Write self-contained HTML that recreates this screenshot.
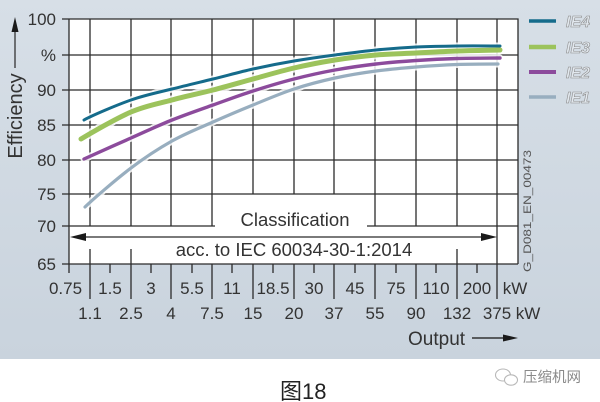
<!DOCTYPE html>
<html>
<head>
<meta charset="utf-8">
<style>
html,body{margin:0;padding:0;background:#fff;}
svg{display:block;}
text{font-family:"Liberation Sans","Noto Sans CJK SC",sans-serif;}
</style>
</head>
<body>
<svg width="600" height="402" viewBox="0 0 600 402" xmlns="http://www.w3.org/2000/svg" xmlns:xlink="http://www.w3.org/1999/xlink">
<defs>
<linearGradient id="bg" x1="0" y1="0" x2="0" y2="1">
<stop offset="0" stop-color="#d7dfe7"/>
<stop offset="1" stop-color="#c9d3dd"/>
</linearGradient>
<path id="ie1" d="M85,207 C92.7,199.5 116.5,179 131,168 S158.3,148.7 172,141 S199.5,128 213,122 S239.5,110.5 253,105 S280.3,93.5 294,89 S321.3,81 335,78 S362.5,72.8 376,71 S402.5,68.1 416,67 S443.3,65 457,64.5 S491.2,64 498,64"/>
<path id="ie2" d="M84,159 C91.8,155.4 116.3,144.5 131,138 S158.3,125.5 172,120 S199.5,109.8 213,105 S239.5,95.3 253,91 S280.3,82.5 294,79 S321.3,72.5 335,70 S362.5,65.6 376,64 S402.5,61.4 416,60.5 S443,58.9 457,58.5 S492.8,58.1 500,58"/>
<path id="ie3" d="M81,139 C89.3,134 115.8,118.5 131,112 S158.3,103.7 172,100 S199.5,93.5 213,90 S239.5,82.7 253,79 S280.3,71.2 294,68 S321.3,62.2 335,60 S362.5,56.2 376,55 S402.5,53.7 416,53 S443,51.5 457,51 S492.8,50.2 500,50"/>
<path id="ie4" d="M84,120 C92,115.5 116.3,105.2 131,100 S158.3,92.5 172,89 S199.5,82.3 213,79 S239.5,72 253,69 S280.3,63.3 294,61 S321.3,56.8 335,55 S362.5,51.3 376,50 S402.5,47.7 416,47 S443,46.2 457,46 S492.8,46 500,46"/>
</defs>

<rect x="0" y="0" width="600" height="359" fill="url(#bg)"/>
<rect x="0" y="359" width="600" height="43" fill="#ffffff"/>
<rect x="69" y="19" width="449" height="245" fill="#ffffff"/>

<path fill="none" stroke="#2b2b2b" stroke-width="1.3" d="
M62,19H518V264 M69,19V273 M62,264H518
M62,55H518 M62,90H518 M62,125H518 M62,160H518 M62,194H518
M62,226H215 M367,226H518
M90,19V226 M131,19V226 M171,19V226 M212,19V226
M253,19V194 M294,19V194 M334,19V194
M375,19V226 M416,19V226 M457,19V226 M497,19V299
M90,249V299 M131,249V299 M457,249V299
M171,264V299 M212,264V299 M253,264V299 M294,264V299 M334,264V299 M375,264V299 M416,264V299
M110,264V273 M151,264V273 M192,264V273 M232,264V273 M273,264V273
M314,264V273 M355,264V273 M396,264V273 M436,264V273 M477,264V273
M82,237H485"/>
<path fill="#1a1a1a" d="M70,237L86,233V241Z M497,237L481,233V241Z"/>

<g fill="none" stroke="#ffffff" stroke-linecap="round" stroke-linejoin="round" opacity="0.85" stroke-width="7">
<use xlink:href="#ie1" href="#ie1"/>
<use xlink:href="#ie2" href="#ie2"/>
<use xlink:href="#ie3" href="#ie3" stroke-width="9"/>
<use xlink:href="#ie4" href="#ie4"/>
</g>
<g fill="none" stroke-linecap="round" stroke-linejoin="round">
<use xlink:href="#ie1" href="#ie1" stroke="#98aebf" stroke-width="3.2"/>
<use xlink:href="#ie2" href="#ie2" stroke="#8c4b9c" stroke-width="3.4"/>
<use xlink:href="#ie3" href="#ie3" stroke="#9cc35c" stroke-width="5"/>
<use xlink:href="#ie4" href="#ie4" stroke="#156b8b" stroke-width="3"/>
</g>

<text x="295" y="226" font-size="18.5" fill="#333" text-anchor="middle">Classification</text>
<text x="294" y="256" font-size="18.5" fill="#333" text-anchor="middle">acc. to IEC 60034-30-1:2014</text>

<g font-size="17" fill="#333" text-anchor="end">
<text x="56" y="25">100</text>
<text x="56" y="61">%</text>
<text x="56" y="96">90</text>
<text x="56" y="131">85</text>
<text x="56" y="166">80</text>
<text x="56" y="200">75</text>
<text x="56" y="232">70</text>
<text x="56" y="270">65</text>
</g>
<text transform="translate(22,116) rotate(-90)" font-size="20" fill="#333" text-anchor="middle">Efficiency</text>
<path d="M15,68V30" stroke="#333" stroke-width="1.3"/>
<path d="M15,17L11.5,32H18.5Z" fill="#1a1a1a"/>

<g font-size="17" fill="#333" text-anchor="middle">
<text x="65.5" y="294">0.75</text>
<text x="110" y="294">1.5</text>
<text x="151" y="294">3</text>
<text x="192" y="294">5.5</text>
<text x="232" y="294">11</text>
<text x="273" y="294">18.5</text>
<text x="314" y="294">30</text>
<text x="355" y="294">45</text>
<text x="396" y="294">75</text>
<text x="436" y="294">110</text>
<text x="477" y="294">200</text>
<text x="515" y="294">kW</text>
<text x="90" y="319">1.1</text>
<text x="131" y="319">2.5</text>
<text x="171" y="319">4</text>
<text x="212" y="319">7.5</text>
<text x="253" y="319">15</text>
<text x="294" y="319">20</text>
<text x="334" y="319">37</text>
<text x="375" y="319">55</text>
<text x="416" y="319">90</text>
<text x="457" y="319">132</text>
<text x="497" y="319">375</text>
<text x="528" y="319">kW</text>
</g>
<text x="408" y="345" font-size="19" fill="#333">Output</text>
<path d="M472,338H505" stroke="#333" stroke-width="1.4"/>
<path d="M518,338L503,334.5V341.5Z" fill="#1a1a1a"/>

<text transform="translate(531,211) rotate(-90)" font-size="11" fill="#555" text-anchor="middle" textLength="122" lengthAdjust="spacingAndGlyphs">G_D081_EN_00473</text>

<path d="M529,21H556" stroke="#156b8b" stroke-width="3.5"/>
<path d="M529,47H556" stroke="#9cc35c" stroke-width="4.5"/>
<path d="M529,72H556" stroke="#8c4b9c" stroke-width="4"/>
<path d="M529,97H556" stroke="#98aebf" stroke-width="3.5"/>
<g font-size="16" font-style="italic" font-weight="bold" fill="#e2e8ee" stroke="#8c8c8c" stroke-width="0.6">
<text x="566" y="27">IE4</text>
<text x="566" y="53">IE3</text>
<text x="566" y="78">IE2</text>
<text x="566" y="103">IE1</text>
</g>

<text x="280" y="399" font-size="22" fill="#222">图18</text>

<ellipse cx="503" cy="375" rx="7.5" ry="6" fill="none" stroke="#b8b8b8" stroke-width="1.1"/>
<ellipse cx="511" cy="380" rx="6.5" ry="5.2" fill="#ffffff" stroke="#b8b8b8" stroke-width="1.1"/>
<text x="523" y="382" font-size="14.5" fill="#8a8a8a">压缩机网</text>
</svg>
</body>
</html>
